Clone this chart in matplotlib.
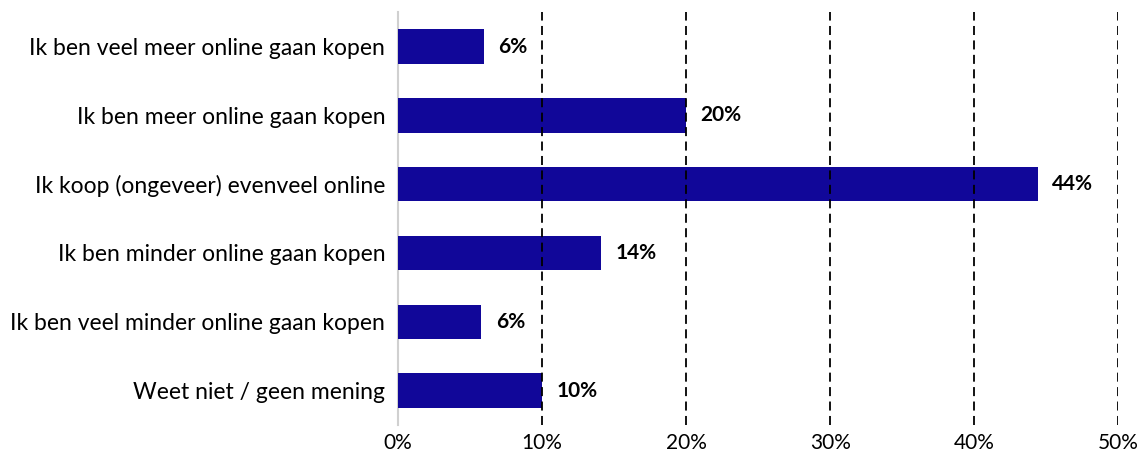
import matplotlib.pyplot as plt
import numpy as np

categories = [
    "Ik ben veel meer online gaan kopen",
    "Ik ben meer online gaan kopen",
    "Ik koop (ongeveer) evenveel online",
    "Ik ben minder online gaan kopen",
    "Ik ben veel minder online gaan kopen",
    "Weet niet / geen mening",
]
values = [6.0, 20.0, 44.4, 14.1, 5.8, 10.0]
labels = ["6%", "20%", "44%", "14%", "6%", "10%"]
ticks = [0, 10, 20, 30, 40, 50]

plt.rcParams['font.family'] = ['Lato', 'DejaVu Sans']

fig = plt.figure(figsize=(11.46, 4.66), dpi=100)
ax = fig.add_axes([0.347, 0.088, 0.629, 0.886])

y = np.arange(len(categories))[::-1]
ax.barh(y, values, height=0.5, color='#110799', zorder=3)

for yi, v, lab in zip(y, values, labels):
    ax.text(v + 1.0, yi, lab, va='center', ha='left', fontsize=15,
            fontweight='bold', color='black')

ax.set_xlim(0, 50)
ax.set_ylim(-0.5, 5.5)
ax.set_xticks(ticks)
ax.set_xticklabels([f"{t}%" for t in ticks], fontsize=15)
ax.set_yticks(y)
ax.set_yticklabels(categories, fontsize=16.5)
ax.tick_params(axis='both', length=0)
ax.tick_params(axis='y', pad=9)
ax.tick_params(axis='x', pad=6)

for t in ticks[1:]:
    ax.axvline(t, color='black', linestyle=(0, (5, 3)), linewidth=1.3, zorder=4)

for s in ['top', 'right', 'bottom']:
    ax.spines[s].set_visible(False)
ax.spines['left'].set_color('#d0d0d0')
ax.spines['left'].set_linewidth(1.5)

fig.savefig('out.png', dpi=100)
